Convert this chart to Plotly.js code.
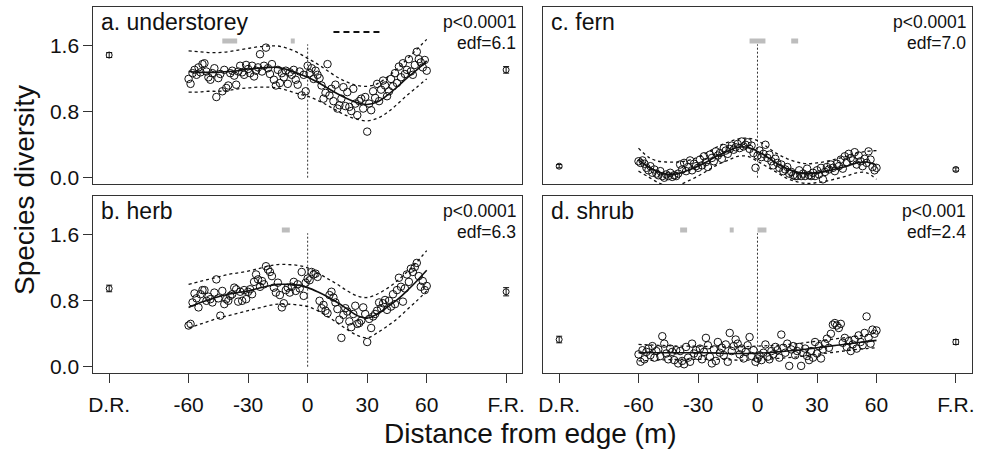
<!DOCTYPE html>
<html><head><meta charset="utf-8">
<script src="https://cdn.plot.ly/plotly-3.0.1.min.js"></script>
<style>html,body{margin:0;padding:0;background:#fff}#chart{width:981px;height:454px}</style>
</head><body><div id="chart"></div>
<script>
// Distance from edge (m) of each plot sample
const distance = [-60,-59,-58,-57,-56,-55,-54,-53,-52,-51,-50,-49,-48,-47,-46,-45,-44,-43,-42,-41,
-40,-39,-38,-37,-36,-35,-34,-33,-32,-31,-30,-29,-28,-27,-26,-25,-24,-23,-22,-21,
-20,-19,-18,-17,-16,-15,-14,-13,-12,-11,-10,-9,-8,-7,-6,-5,-4,-3,-2,-1,
0,1,2,3,4,5,6,7,8,9,10,11,12,13,14,15,16,17,18,19,20,21,22,23,24,25,26,27,28,29,
30,31,32,33,34,35,36,37,38,39,40,41,42,43,44,45,46,47,48,49,50,51,52,53,54,55,56,57,58,59,60];

const understorey = [1.20,1.14,1.27,1.31,1.25,1.34,1.28,1.38,1.39,1.29,
1.22,1.19,1.27,1.33,0.98,1.21,1.26,1.05,1.31,1.09,
1.12,1.27,1.30,1.24,1.13,1.29,1.36,1.28,1.25,1.37,
1.32,1.27,1.36,1.23,1.30,1.34,1.50,1.29,1.36,1.58,
1.33,1.26,1.38,1.19,1.12,1.31,1.15,1.27,1.22,1.30,
1.14,1.28,1.25,1.31,1.19,1.13,1.29,1.00,1.25,1.05,
1.36,1.27,1.33,1.20,1.30,1.25,1.21,1.12,0.96,1.03,
1.38,1.00,1.08,0.93,1.13,0.84,0.88,0.96,1.10,0.87,
1.04,0.86,0.81,1.08,0.90,0.76,0.93,0.96,0.84,0.98,
0.56,0.90,0.82,1.05,0.97,1.14,0.93,1.07,1.18,1.12,
0.99,1.05,1.20,1.11,1.27,1.15,1.35,1.22,1.39,1.26,
1.31,1.44,1.29,1.25,1.37,1.53,1.44,1.40,1.34,1.43,1.30];

const herb = [0.50,0.52,0.78,0.89,0.83,0.72,0.88,0.93,0.93,0.80,
0.85,0.82,0.78,0.90,1.06,0.83,0.62,0.92,0.76,0.82,
0.80,0.86,0.88,0.96,0.94,0.79,0.91,0.80,0.93,0.82,
0.91,0.94,0.88,1.03,1.12,1.06,0.97,1.04,1.00,1.22,
1.18,1.15,1.10,0.96,0.90,1.02,0.87,0.72,0.77,0.93,
0.96,0.90,0.97,1.03,0.92,1.00,0.95,1.15,0.86,1.02,
1.07,1.05,1.15,1.12,1.13,1.09,0.80,0.71,0.75,0.68,
0.65,0.87,0.91,0.84,0.78,0.70,0.57,0.35,0.63,0.71,
0.67,0.55,0.48,0.64,0.74,0.52,0.53,0.56,0.72,0.64,
0.30,0.58,0.47,0.61,0.64,0.68,0.78,0.71,0.77,0.81,
0.69,0.80,0.73,0.88,0.76,0.93,1.08,0.97,0.79,0.95,
1.12,1.03,1.19,1.15,1.21,1.26,1.10,0.97,1.04,0.93,0.98];

const fern = [0.20,0.18,0.21,0.17,0.12,0.09,0.14,0.06,0.10,0.05,
0.03,0.08,0.02,0.00,0.04,0.02,0.06,0.01,0.03,0.02,
0.05,0.16,0.10,0.18,0.08,0.13,0.21,0.09,0.17,0.14,
0.12,0.22,0.15,0.26,0.19,0.13,0.28,0.24,0.20,0.32,
0.27,0.30,0.23,0.36,0.33,0.29,0.35,0.39,0.34,0.37,
0.41,0.36,0.44,0.38,0.40,0.43,0.35,0.39,0.30,0.12,
0.27,0.33,0.25,0.29,0.40,0.24,0.28,0.20,0.15,0.23,
0.18,0.12,0.16,0.08,0.10,0.13,0.05,0.07,0.03,0.02,
0.02,0.09,0.02,0.05,0.02,0.11,0.03,0.02,0.06,0.02,
0.09,0.04,0.12,-0.02,0.07,0.13,0.10,0.16,0.12,0.08,
0.17,0.14,0.22,0.11,0.26,0.19,0.29,0.24,0.21,0.31,
0.16,0.27,0.20,0.14,0.23,0.18,0.32,0.22,0.13,0.09,0.12];

const shrub = [0.15,0.06,0.20,0.09,0.18,0.22,0.14,0.25,0.11,0.19,
0.21,0.13,0.37,0.28,0.16,0.09,0.22,0.18,0.08,0.20,
0.04,0.19,0.07,0.03,0.24,0.11,0.06,0.28,0.16,0.20,
0.13,0.22,0.09,0.18,0.35,0.26,0.12,0.04,0.21,0.07,
0.30,0.17,0.23,0.14,0.27,0.06,0.41,0.19,0.25,0.33,
0.28,0.15,0.22,0.10,0.18,0.26,0.36,0.13,0.20,0.06,
0.10,0.14,0.08,0.17,0.27,0.12,0.09,0.19,0.15,0.24,
0.20,0.11,0.39,0.23,0.17,0.28,0.01,0.21,0.25,0.14,
0.19,0.24,0.01,0.17,0.22,0.13,0.08,0.19,0.11,0.30,
0.16,0.25,0.10,0.21,0.28,0.34,0.23,0.40,0.51,0.53,
0.50,0.47,0.52,0.29,0.35,0.24,0.31,0.19,0.27,0.33,
0.22,0.38,0.30,0.26,0.41,0.61,0.35,0.28,0.45,0.40,0.44];

// GAM fits and confidence bands
const fitX = [-60,-55,-50,-45,-40,-35,-30,-25,-20,-15,-10,-5,0,5,10,15,20,25,30,35,40,45,50,55,60];
const understoreyFit   = [1.29,1.28,1.28,1.28,1.29,1.30,1.32,1.33,1.34,1.34,1.31,1.27,1.22,1.16,1.09,1.02,0.96,0.91,0.89,0.92,1.00,1.10,1.21,1.31,1.42];
const understoreyUpper = [1.54,1.53,1.52,1.52,1.53,1.55,1.57,1.59,1.60,1.60,1.57,1.52,1.45,1.38,1.30,1.22,1.16,1.12,1.11,1.14,1.22,1.32,1.44,1.56,1.68];
const understoreyLower = [1.04,1.04,1.05,1.05,1.06,1.08,1.09,1.10,1.10,1.09,1.06,1.02,0.99,0.94,0.88,0.81,0.75,0.71,0.69,0.72,0.79,0.89,1.00,1.10,1.20];
const herbFit   = [0.72,0.77,0.81,0.85,0.88,0.90,0.92,0.95,0.98,1.00,1.00,0.99,0.96,0.91,0.85,0.78,0.70,0.62,0.59,0.64,0.72,0.81,0.92,1.04,1.17];
const herbUpper = [1.00,1.03,1.06,1.09,1.12,1.14,1.16,1.19,1.22,1.24,1.24,1.23,1.20,1.14,1.07,1.00,0.92,0.86,0.84,0.88,0.95,1.04,1.15,1.27,1.41];
const herbLower = [0.47,0.51,0.55,0.59,0.62,0.65,0.68,0.71,0.74,0.76,0.76,0.75,0.73,0.68,0.61,0.53,0.45,0.38,0.35,0.41,0.49,0.58,0.69,0.80,0.92];
const fernFit   = [0.22,0.13,0.07,0.04,0.05,0.09,0.14,0.20,0.27,0.32,0.37,0.37,0.32,0.25,0.17,0.11,0.07,0.05,0.06,0.08,0.11,0.14,0.18,0.19,0.15];
const fernUpper = [0.36,0.25,0.20,0.19,0.19,0.21,0.25,0.31,0.38,0.43,0.47,0.48,0.45,0.37,0.29,0.23,0.19,0.17,0.18,0.20,0.23,0.26,0.30,0.32,0.33];
const fernLower = [0.08,0.01,-0.06,-0.10,-0.09,-0.04,0.02,0.09,0.16,0.21,0.26,0.26,0.20,0.13,0.06,-0.01,-0.05,-0.07,-0.06,-0.04,-0.01,0.02,0.06,0.06,-0.02];
const shrubFit   = [0.17,0.17,0.17,0.17,0.17,0.17,0.17,0.17,0.165,0.16,0.16,0.16,0.165,0.17,0.18,0.19,0.20,0.215,0.23,0.245,0.26,0.275,0.29,0.305,0.32];
const shrubUpper = [0.27,0.265,0.26,0.255,0.25,0.25,0.25,0.245,0.24,0.24,0.24,0.245,0.25,0.255,0.26,0.27,0.28,0.295,0.31,0.325,0.34,0.355,0.37,0.39,0.41];
const shrubLower = [0.07,0.075,0.08,0.085,0.09,0.09,0.09,0.09,0.09,0.085,0.08,0.08,0.08,0.09,0.10,0.11,0.12,0.135,0.15,0.165,0.18,0.195,0.21,0.22,0.23];

// Reference sites: D.R. and F.R. means with standard errors
const refX = [-100, 100];
const understoreyRef = [1.49, 1.31], understoreyRefErr = [0.03, 0.04];
const herbRef = [0.95, 0.91], herbRefErr = [0.04, 0.05];
const fernRef = [0.14, 0.10], fernRefErr = [0.02, 0.02];
const shrubRef = [0.33, 0.30], shrubRefErr = [0.04, 0.03];

// Significance segments
const sigLevel = 1.66;
const understoreySig = [[-43,-35.5],[-8.5,-6.5]];
const herbSig = [[-13,-9]];
const fernSig = [[-4,4],[17,20.5]];
const shrubSig = [[-39,-35.5],[-14,-12],[0,4.5]];
const understoreyDash = [13, 38], dashLevel = 1.77;
const edgeLineTop = 1.62;

const panelLabels = ['a. understorey','b. herb','c. fern','d. shrub'];
const pValues = ['p<0.0001','p<0.0001','p<0.0001','p<0.001'];
const edfValues = ['edf=6.1','edf=6.3','edf=7.0','edf=2.4'];
const xTickVals = [-100,-60,-30,0,30,60,100];
const xTickText = ['D.R.','-60','-30','0','30','60','F.R.'];
const yTickVals = [0, 0.8, 1.6];
const yTickText = ['0.0','0.8','1.6'];

const FONT = 'Liberation Sans, Arial, sans-serif';
const panels = [
  {key:'a', y:understorey, fit:understoreyFit, up:understoreyUpper, lo:understoreyLower, ref:understoreyRef, err:understoreyRefErr, sig:understoreySig, xa:'x', ya:'y'},
  {key:'b', y:herb, fit:herbFit, up:herbUpper, lo:herbLower, ref:herbRef, err:herbRefErr, sig:herbSig, xa:'x2', ya:'y2'},
  {key:'c', y:fern, fit:fernFit, up:fernUpper, lo:fernLower, ref:fernRef, err:fernRefErr, sig:fernSig, xa:'x3', ya:'y3'},
  {key:'d', y:shrub, fit:shrubFit, up:shrubUpper, lo:shrubLower, ref:shrubRef, err:shrubRefErr, sig:shrubSig, xa:'x4', ya:'y4'}
];

const traces = [];
panels.forEach(p => {
  const base = {xaxis:p.xa, yaxis:p.ya, showlegend:false, hoverinfo:'skip'};
  traces.push(Object.assign({type:'scatter', mode:'lines', x:[0,0], y:[0,edgeLineTop],
    line:{color:'#333', width:1, dash:'2px,2px'}}, base));
  p.sig.forEach(s => traces.push(Object.assign({type:'scatter', mode:'lines', x:s, y:[sigLevel,sigLevel],
    line:{color:'#bdbdbd', width:5}}, base)));
  traces.push(Object.assign({type:'scatter', mode:'markers', x:distance, y:p.y,
    marker:{symbol:'circle-open', size:7.5, color:'#111', line:{width:1, color:'#111'}}, cliponaxis:false}, base));
  traces.push(Object.assign({type:'scatter', mode:'lines', x:fitX, y:p.up, line:{color:'#111', width:1.3, dash:'3px,3px', shape:'spline'}}, base));
  traces.push(Object.assign({type:'scatter', mode:'lines', x:fitX, y:p.lo, line:{color:'#111', width:1.3, dash:'3px,3px', shape:'spline'}}, base));
  traces.push(Object.assign({type:'scatter', mode:'lines', x:fitX, y:p.fit, line:{color:'#111', width:1.6, shape:'spline'}}, base));
  traces.push(Object.assign({type:'scatter', mode:'markers', x:refX, y:p.ref,
    marker:{symbol:'circle-open', size:6, color:'#111', line:{width:1, color:'#111'}},
    error_y:{type:'data', array:p.err, visible:true, color:'#111', thickness:1, width:3}}, base));
});
traces.push({type:'scatter', mode:'lines', x:understoreyDash, y:[dashLevel,dashLevel], xaxis:'x', yaxis:'y',
  line:{color:'#111', width:2, dash:'6px,4px'}, showlegend:false, hoverinfo:'skip'});

const W = 981, H = 454;
const xDomL = [93.3/W, 522/W], xDomR = [543.3/W, 971.7/W];
const yDomT = [1-184.3/H, 1-7.3/H], yDomB = [1-373.3/H, 1-196.2/H];

function xax(domain, anchor, bottom){
  return {domain, anchor, range:[-108,108], showgrid:false, zeroline:false, showline:true, mirror:true,
    linecolor:'#333', linewidth:1, ticks: bottom?'outside':'', ticklen:9, tickcolor:'#333',
    tickvals:xTickVals, ticktext:xTickText, showticklabels:bottom, tickfont:{size:21, family:FONT, color:'#111'},
    ticklabelstandoff: 3};
}
function yax(domain, anchor, left){
  return {domain, anchor, range:[-0.08,2.07], showgrid:false, zeroline:false, showline:true, mirror:true,
    linecolor:'#333', linewidth:1, ticks: left?'outside':'', ticklen:9, tickcolor:'#333',
    tickvals:yTickVals, ticktext:yTickText, showticklabels:left, tickfont:{size:21, family:FONT, color:'#111'}};
}

const annotations = [];
const boxes = [[xDomL, yDomT],[xDomL, yDomB],[xDomR, yDomT],[xDomR, yDomB]];
panels.forEach((p,i) => {
  const [xd, yd] = boxes[i];
  annotations.push({xref:'paper', yref:'paper', x:xd[0]+6/W, y:yd[1]-0/H, xanchor:'left', yanchor:'top',
    text:panelLabels[i], showarrow:false, font:{size:23, family:FONT, color:'#111'}});
  annotations.push({xref:'paper', yref:'paper', x:xd[1]-4/W, y:yd[1]-3/H, xanchor:'right', yanchor:'top',
    text:pValues[i], showarrow:false, font:{size:17.5, family:FONT, color:'#111'}});
  annotations.push({xref:'paper', yref:'paper', x:xd[1]-4/W, y:yd[1]-24/H, xanchor:'right', yanchor:'top',
    text:edfValues[i], showarrow:false, font:{size:17.5, family:FONT, color:'#111'}});
});
annotations.push({xref:'paper', yref:'paper', x:530/W, y:1-433/H, xanchor:'center', yanchor:'middle',
  text:'Distance from edge (m)', showarrow:false, font:{size:28, family:FONT, color:'#111'}});
annotations.push({xref:'paper', yref:'paper', x:25/W, y:1-190/H, xanchor:'center', yanchor:'middle', textangle:-90,
  text:'Species diversity', showarrow:false, font:{size:28, family:FONT, color:'#111'}});

const layout = {
  width:W, height:H, margin:{l:0,r:0,t:0,b:0}, paper_bgcolor:'#fff', plot_bgcolor:'#fff',
  font:{family:FONT, color:'#111'}, showlegend:false,
  xaxis: xax(xDomL,'y',false), yaxis: yax(yDomT,'x',true),
  xaxis2: xax(xDomL,'y2',true), yaxis2: yax(yDomB,'x2',true),
  xaxis3: xax(xDomR,'y3',false), yaxis3: yax(yDomT,'x3',false),
  xaxis4: xax(xDomR,'y4',true), yaxis4: yax(yDomB,'x4',false),
  annotations
};
Plotly.newPlot('chart', traces, layout, {staticPlot:true, displayModeBar:false});
</script></body></html>
